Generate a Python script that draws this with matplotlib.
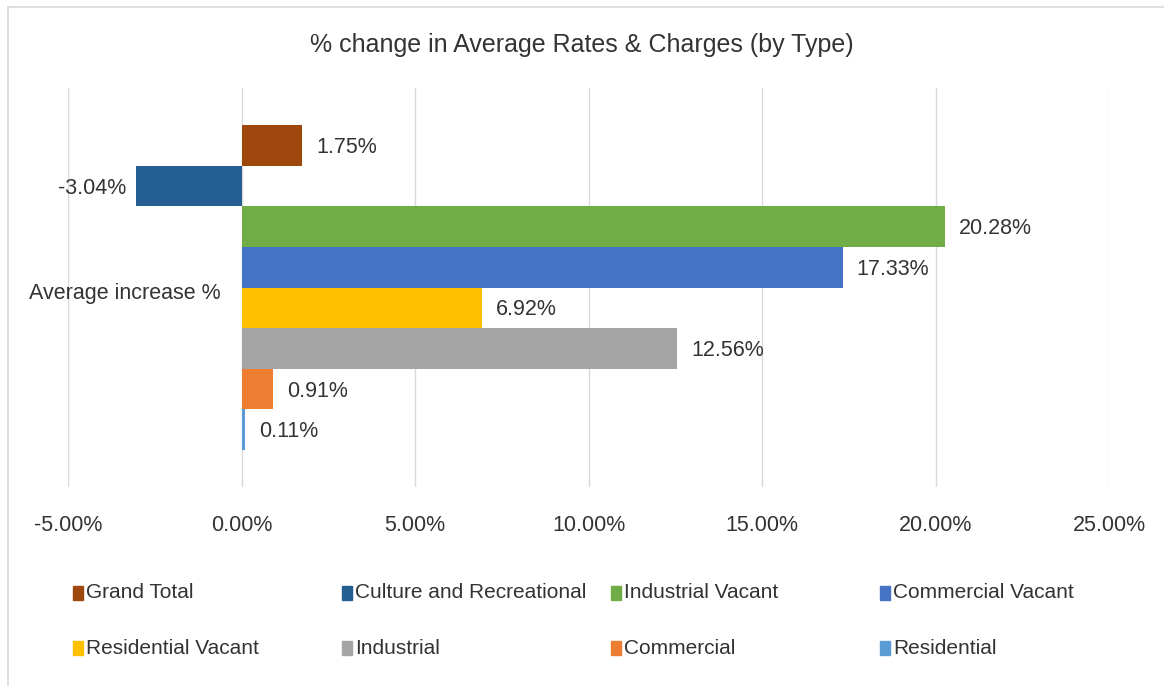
import numpy as np
import matplotlib.pyplot as plt
from matplotlib.patches import Rectangle

plt.rcParams['font.family'] = ['Liberation Sans', 'DejaVu Sans']

# Data
series = ["Grand Total", "Culture and Recreational", "Industrial Vacant", "Commercial Vacant",
          "Residential Vacant", "Industrial", "Commercial", "Residential"]
values = [1.75, -3.04, 20.28, 17.33, 6.92, 12.56, 0.91, 0.11]
colors = ["#9E480E", "#255E91", "#70AD47", "#4472C4",
          "#FFC000", "#A5A5A5", "#ED7D31", "#5B9BD5"]
category = "Average increase %"
xticks = [-5, 0, 5, 10, 15, 20, 25]

W, H = 1164, 686
fig = plt.figure(figsize=(W / 100, H / 100), dpi=100)
txt = "#333333"

# plot area in pixels: x 68..1109, y 88..487
ax = fig.add_axes([68 / W, 1 - 487 / H, (1109 - 68) / W, (487 - 88) / H])

n = len(values)
h = 1.0 / n
# first series drawn at top, last at bottom
pos = [0.5 - h * (i + 0.5) for i in range(n)]
ax.barh(pos, values, height=h, color=colors, linewidth=0, zorder=3)

for y, v in zip(pos, values):
    if v >= 0:
        ax.annotate(f"{v:.2f}%", (v, y), xytext=(10, -1.5), textcoords="offset points",
                    ha="left", va="center", fontsize=15.5, color=txt)
    else:
        ax.annotate(f"{v:.2f}%", (v, y), xytext=(-7, -1.5), textcoords="offset points",
                    ha="right", va="center", fontsize=15.5, color=txt)

lim = (487 - 88) / (450 - 125) / 2
ax.set_ylim(-lim, lim)
ax.set_xlim(xticks[0], xticks[-1])
ax.set_xticks(xticks)
ax.set_xticklabels([f"{t:.2f}%" for t in xticks], fontsize=15.5, color=txt)
ax.set_yticks([])
ax.text(-0.6, -0.02, category, ha="right", va="center", fontsize=15.5, color=txt)
ax.grid(axis="x", color="#D9D9D9", linewidth=1, zorder=0)
ax.tick_params(axis="x", length=0, pad=20)
for s in ax.spines.values():
    s.set_visible(False)

fig.text(0.5, 1 - 45 / H, "% change in Average Rates & Charges (by Type)",
         ha="center", va="center", fontsize=18, color=txt)

# legend: 4 equal-width columns, 2 rows
col_x = [73, 342, 611, 880]
row_y = [593, 648]
for i, (name, c) in enumerate(zip(series, colors)):
    x0 = col_x[i % 4]
    y0 = row_y[i // 4]
    fig.patches.append(Rectangle((x0 / W, 1 - (y0 + 7) / H), 10 / W, 14 / H,
                                 transform=fig.transFigure, color=c, figure=fig))
    fig.text((x0 + 13) / W, 1 - y0 / H, name, ha="left", va="center",
             fontsize=15, color=txt)

# chart border (left and top visible)
fig.add_artist(plt.Line2D([8 / W, 8 / W], [0, 1 - 7 / H], transform=fig.transFigure,
                          color="#D9D9D9", linewidth=1.2))
fig.add_artist(plt.Line2D([8 / W, 1], [1 - 7 / H, 1 - 7 / H], transform=fig.transFigure,
                          color="#D9D9D9", linewidth=1.2))

fig.savefig("out.png", dpi=100)
